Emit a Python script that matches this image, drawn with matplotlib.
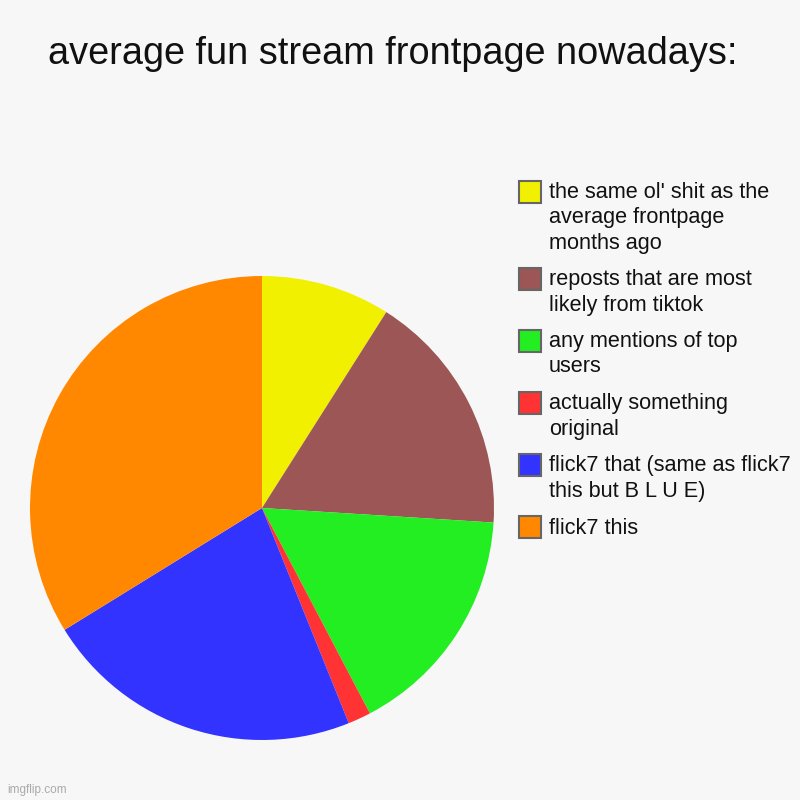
import matplotlib
matplotlib.use("Agg")
import matplotlib.pyplot as plt
from matplotlib.patches import Rectangle

title = "average fun stream frontpage nowadays:"
labels = [
    "the same ol' shit as the\naverage frontpage\nmonths ago",
    "reposts that are most\nlikely from tiktok",
    "any mentions of top\nusers",
    "actually something\noriginal",
    "flick7 that (same as flick7\nthis but B L U E)",
    "flick7 this",
]
values = [9.0, 17.0, 16.3, 1.6, 22.3, 33.8]
colors = ["#F0F000", "#9C5656", "#22EE22", "#FF3333", "#3333FF", "#FF8800"]

plt.rcParams['font.family'] = ['Liberation Sans', 'DejaVu Sans']
W = H = 800
fig = plt.figure(figsize=(8, 8), dpi=100, facecolor="#F7F7F7")

cx, cy, r = 262, 508, 232
ax = fig.add_axes([(cx - r) / W, (H - cy - r) / H, 2 * r / W, 2 * r / H])
ax.set_facecolor("none")
ax.pie(values, colors=colors, startangle=90, counterclock=False, radius=1.0,
       wedgeprops=dict(linewidth=0))
ax.set_xlim(-1, 1)
ax.set_ylim(-1, 1)
ax.set_aspect("equal")
ax.axis("off")

fig.text(393 / W, 1 - 54 / H, title, ha="center", va="center", fontsize=27.3, color="#111111")

# legend
y = 192
line_h = 25
for lab, col in zip(labels, colors):
    n = lab.count("\n") + 1
    box = Rectangle(((519) / W, 1 - (y + 11) / H), 22 / W, 22 / H, transform=fig.transFigure,
                    facecolor=col, edgecolor="#666666", linewidth=1.5)
    fig.patches.append(box)
    for i, line in enumerate(lab.split("\n")):
        fig.text(549 / W, 1 - (y + 1 + i * line_h) / H, line, ha="left", va="center",
                 fontsize=15.6, color="#111111")
    y += n * line_h + 12

fig.text(7 / W, 1 - 790 / H, "imgflip.com", ha="left", va="center", fontsize=8.5, color="#AAAAAA")

fig.savefig("out.png", dpi=100, facecolor=fig.get_facecolor())
